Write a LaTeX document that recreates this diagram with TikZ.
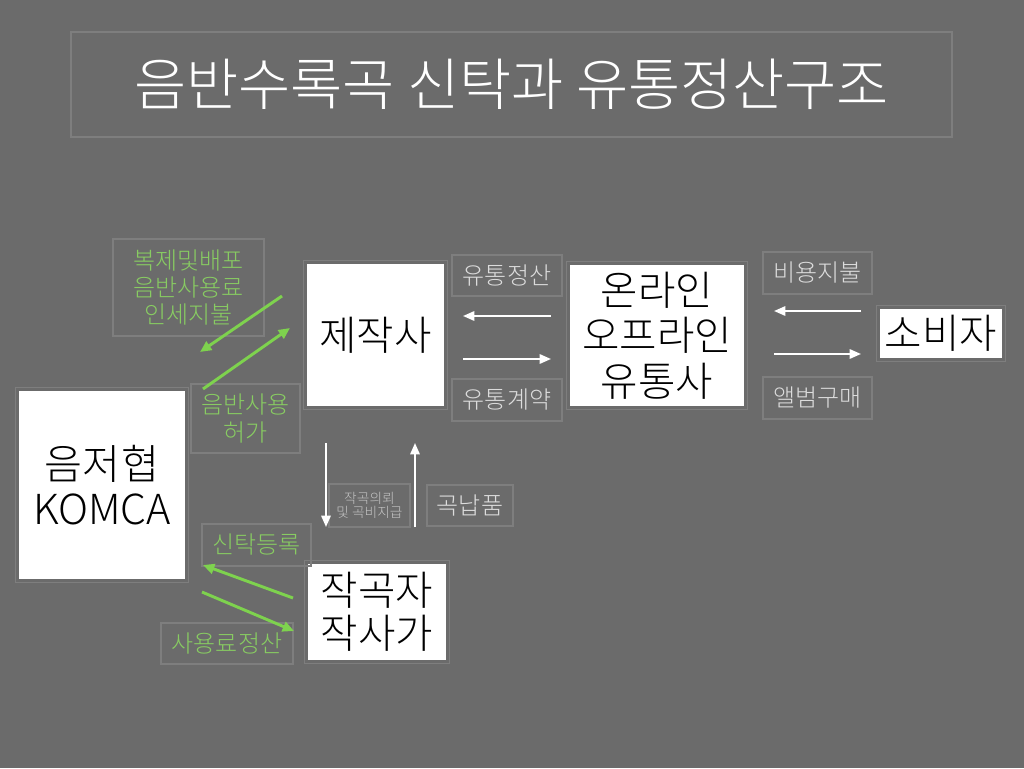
\documentclass[tikz,border=0pt]{standalone}
\usepackage{fontspec}
\setmainfont{Noto Sans CJK KR}[UprightFont={* Light}]
\usetikzlibrary{arrows.meta,fit}
\definecolor{bg}{HTML}{6B6B6B}
\definecolor{frame}{HTML}{7E7E7E}
\definecolor{lbl}{HTML}{DCDCDC}
\definecolor{lbldim}{HTML}{C4C4C4}
\definecolor{gtext}{HTML}{88CC62}
\definecolor{garrow}{HTML}{7ED24E}
\begin{document}
\begin{tikzpicture}[x=0.75pt,y=-0.75pt,
  whitebox/.style={fill=white,draw=none,text=black,align=center,inner sep=0pt,
    font=\fontsize{30.5}{34}\selectfont},
  outframe/.style={draw=frame,line width=0.9pt,inner sep=2.25pt},
  lblbox/.style={draw=frame,line width=0.9pt,text=lbl,align=center,inner sep=0pt,
    font=\fontsize{18}{20.3}\selectfont},
  gbox/.style={lblbox,text=gtext},
  warrow/.style={draw=white,line width=1.5pt,-{Triangle[length=8.5pt,width=7pt]}},
  garr/.style={draw=garrow,line width=2.2pt,-{Triangle[length=8.5pt,width=7.5pt]}}]
\useasboundingbox[fill=bg] (0,0) rectangle (1024,768);
% title
\node[draw=frame,line width=0.9pt,minimum width=881*0.75pt,minimum height=105*0.75pt,inner sep=0pt,
  text=white,font=\fontsize{42.5}{48}\selectfont] (title) at (511.5,84.5) {음반수록곡 신탁과 유통정산구조};
% main boxes
\node[whitebox,minimum width=137*0.75pt,minimum height=142*0.75pt] (prod) at (375.5,335) {제작사};
\node[outframe,fit=(prod)] (prodf) {};
\node[whitebox,minimum width=174*0.75pt,minimum height=141*0.75pt] (dist) at (657,335.5) {온라인\\오프라인\\유통사};
\node[outframe,fit=(dist)] (distf) {};
\node[whitebox,minimum width=122*0.75pt,minimum height=49*0.75pt] (cons) at (941,333.5) {소비자};
\node[outframe,fit=(cons)] (consf) {};
\node[whitebox,minimum width=166*0.75pt,minimum height=188*0.75pt,font=\fontsize{31}{34}\selectfont] (komca) at (102,485) {음저협\\KOMCA};
\node[outframe,fit=(komca)] (komcaf) {};
\node[whitebox,minimum width=138*0.75pt,minimum height=96*0.75pt,font=\fontsize{30.5}{32.5}\selectfont] (comp) at (377,612) {작곡자\\작사가};
\node[outframe,fit=(comp)] (compf) {};
% gray labels
\node[lblbox,minimum width=110*0.75pt,minimum height=41*0.75pt] (l1) at (507,275.5) {유통정산};
\node[lblbox,minimum width=110*0.75pt,minimum height=42*0.75pt] (l2) at (507,400) {유통계약};
\node[lblbox,minimum width=109*0.75pt,minimum height=42*0.75pt] (l3) at (817.5,273) {비용지불};
\node[lblbox,minimum width=109*0.75pt,minimum height=42*0.75pt] (l4) at (817.5,398) {앨범구매};
\node[lblbox,minimum width=86*0.75pt,minimum height=41*0.75pt] (l5) at (470,505.5) {곡납품};
\node[lblbox,text=lbldim,minimum width=81*0.75pt,minimum height=43*0.75pt,font=\fontsize{10.3}{10.8}\selectfont] (l6) at (369.5,505.5) {작곡의뢰\\및 곡비지급};
% green labels
\node[gbox,minimum width=151*0.75pt,minimum height=97*0.75pt] (g1) at (188.5,287.5) {복제및배포\\음반사용료\\인세지불};
\node[gbox,minimum width=109*0.75pt,minimum height=69*0.75pt] (g2) at (245.5,418.5) {음반사용\\허가};
\node[gbox,minimum width=109*0.75pt,minimum height=42*0.75pt] (g3) at (256.5,545) {신탁등록};
\node[gbox,minimum width=132*0.75pt,minimum height=41*0.75pt] (g4) at (227,643.5) {사용료정산};
% arrow end points
\coordinate (a1s) at (551,316); \coordinate (a1e) at (463,316);
\coordinate (a2s) at (463,359); \coordinate (a2e) at (551,359);
\coordinate (a3s) at (861,311); \coordinate (a3e) at (774,311);
\coordinate (a4s) at (774,354); \coordinate (a4e) at (861,354);
\coordinate (a5s) at (326,443); \coordinate (a5e) at (326,527);
\coordinate (a6s) at (415,527); \coordinate (a6e) at (415,443);
\coordinate (b1s) at (282,296); \coordinate (b1e) at (200,352);
\coordinate (b2s) at (203,389); \coordinate (b2e) at (290,328);
\coordinate (b3s) at (293,598); \coordinate (b3e) at (203,565);
\coordinate (b4s) at (202,592); \coordinate (b4e) at (294,631);
\draw[warrow] (a1s) -- (a1e);
\draw[warrow] (a2s) -- (a2e);
\draw[warrow] (a3s) -- (a3e);
\draw[warrow] (a4s) -- (a4e);
\draw[warrow] (a5s) -- (a5e);
\draw[warrow] (a6s) -- (a6e);
\draw[garr] (b1s) -- (b1e);
\draw[garr] (b2s) -- (b2e);
\draw[garr] (b3s) -- (b3e);
\draw[garr] (b4s) -- (b4e);
\end{tikzpicture}
\end{document}
